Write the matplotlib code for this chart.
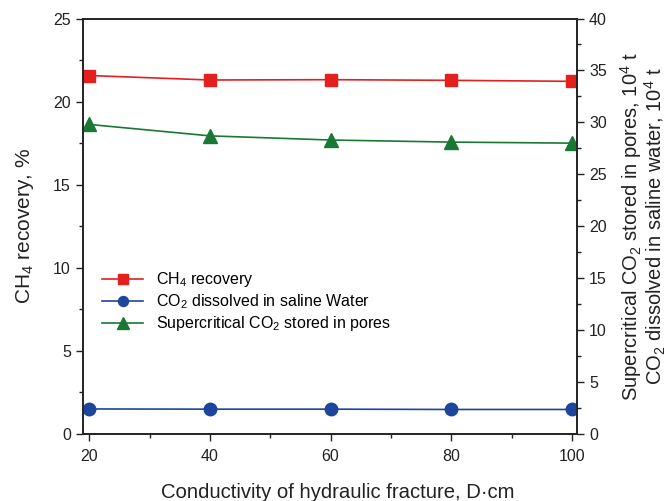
import matplotlib
matplotlib.use("Agg")
import matplotlib.pyplot as plt
from matplotlib.ticker import MultipleLocator

plt.rcParams['font.family'] = ['Liberation Sans', 'DejaVu Sans']
plt.rcParams['mathtext.fontset'] = 'custom'
plt.rcParams['mathtext.rm'] = 'Liberation Sans'
plt.rcParams['mathtext.it'] = 'Liberation Sans'

conductivity = [20, 40, 60, 80, 100]
ch4_recovery = [21.57, 21.3, 21.32, 21.28, 21.22]
co2_dissolved = [2.4, 2.38, 2.38, 2.35, 2.35]
co2_supercritical = [29.8, 28.7, 28.3, 28.1, 28.0]

red = '#e3201e'
blue = '#1c469c'
green = '#197834'

fig = plt.figure(figsize=(6.72, 5.01), dpi=100)
ax = fig.add_axes([0.123, 0.134, 0.736, 0.829])
ax2 = ax.twinx()

l1, = ax.plot(conductivity, ch4_recovery, color=red, lw=1.2, marker='s', ms=9,
              label='CH$_4$ recovery')
l2, = ax2.plot(conductivity, co2_dissolved, color=blue, lw=1.2, marker='o', ms=9,
               label='CO$_2$ dissolved in saline Water')
l3, = ax2.plot(conductivity, co2_supercritical, color=green, lw=1.2, marker='^', ms=10,
               label='Supercritical CO$_2$ stored in pores')

ax.set_xlim(18.9, 100.9)
ax.set_ylim(0, 25)
ax2.set_ylim(0, 40)

ax.xaxis.set_major_locator(MultipleLocator(20))
ax.xaxis.set_minor_locator(MultipleLocator(10))
ax.yaxis.set_major_locator(MultipleLocator(5))
ax.yaxis.set_minor_locator(MultipleLocator(2.5))
ax2.yaxis.set_major_locator(MultipleLocator(5))
ax2.yaxis.set_minor_locator(MultipleLocator(2.5))

for a in (ax, ax2):
    a.tick_params(which='both', direction='out', labelsize=11.5, color='#222222',
                  labelcolor='#222222', width=1.0)
    a.tick_params(which='major', length=5)
    a.tick_params(which='minor', length=3)
    for s in a.spines.values():
        s.set_linewidth(1.2)
        s.set_color('#222222')
ax.tick_params(axis='x', pad=6)

ax.set_xlabel('Conductivity of hydraulic fracture, D·cm', fontsize=14.6,
              color='#222222')
ax.xaxis.set_label_coords(0.515, -0.118)
ax.set_ylabel('CH$_4$ recovery, %', fontsize=15, labelpad=12, color='#222222')
ax2.set_ylabel('Supercritical CO$_2$ stored in pores, 10$^4$ t\n'
               'CO$_2$ dissolved in saline water, 10$^4$ t',
               fontsize=14.5, labelpad=8, color='#222222', linespacing=0.95)

ax.legend(handles=[l1, l2, l3], loc='upper left', bbox_to_anchor=(0.0, 0.44),
          frameon=False, fontsize=11.5, handlelength=2.6, markerscale=0.8,
          labelspacing=0.2, borderaxespad=0.8)

fig.savefig('out.png', dpi=100)
